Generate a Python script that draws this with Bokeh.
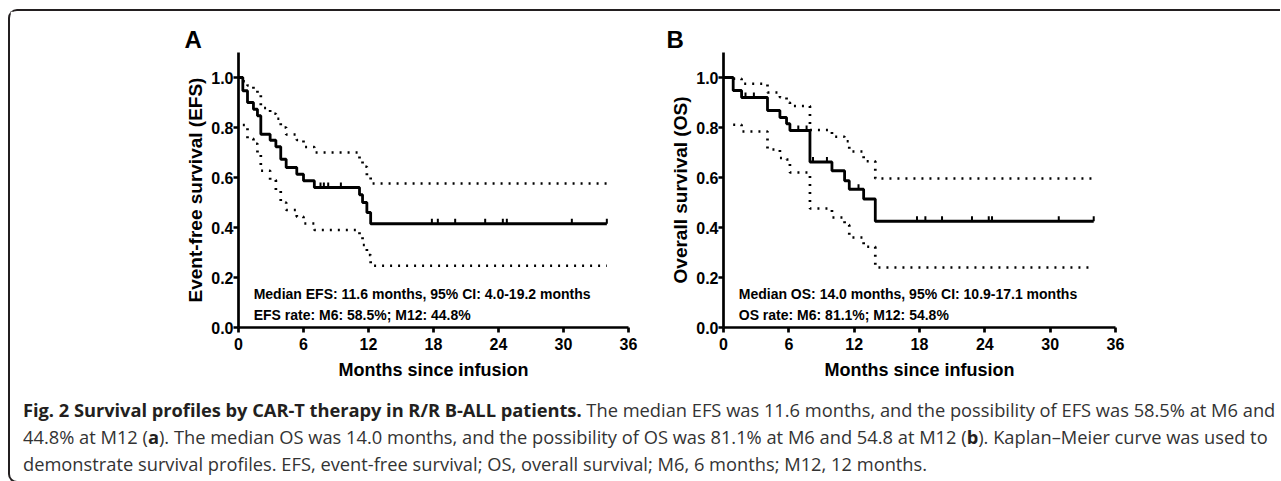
import numpy as np
from bokeh.plotting import figure
from bokeh.models import Label, Div, FixedTicker, Range1d, PrintfTickFormatter
from bokeh.layouts import row, column
from bokeh.embed import file_html
from bokeh.resources import INLINE

# ---------------- data ----------------
x_ticks = [0, 6, 12, 18, 24, 30, 36]
y_ticks = [0.0, 0.2, 0.4, 0.6, 0.8, 1.0]

# Panel A: event-free survival
efs_t = [0.0, 0.4, 0.83, 1.38, 1.75, 2.06, 2.92, 3.45, 3.9, 4.4, 5.38, 6.0, 7.0, 11.17, 11.45, 11.85, 12.2, 34.0]
efs_s = [1.0, 0.947, 0.90, 0.873, 0.847, 0.773, 0.749, 0.723, 0.673, 0.64, 0.613, 0.587, 0.56, 0.531, 0.50, 0.46, 0.415, 0.415]
efs_ci_t = [0.4, 0.83, 1.38, 1.75, 2.06, 2.92, 3.45, 3.9, 4.4, 5.38, 6.0, 7.0, 11.17, 11.45, 11.85, 12.2, 34.0]
efs_hi = [0.985, 0.968, 0.952, 0.93, 0.878, 0.855, 0.835, 0.80, 0.772, 0.75, 0.722, 0.70, 0.67, 0.643, 0.605, 0.576, 0.576]
efs_lo = [0.81, 0.755, 0.735, 0.69, 0.627, 0.59, 0.55, 0.50, 0.47, 0.443, 0.416, 0.39, 0.365, 0.33, 0.29, 0.247, 0.247]
efs_cens = [7.57, 7.88, 8.28, 9.45, 17.85, 18.4, 20.0, 22.77, 24.4, 24.77, 30.77, 34.0]

# Panel B: overall survival
os_t = [0.0, 0.89, 1.66, 4.04, 5.18, 5.79, 6.1, 7.94, 9.96, 11.12, 11.55, 12.87, 13.94, 34.0]
os_s = [1.0, 0.948, 0.92, 0.868, 0.84, 0.815, 0.788, 0.662, 0.627, 0.587, 0.553, 0.514, 0.425, 0.425]
os_ci_t = [0.89, 1.66, 4.04, 5.18, 5.79, 6.1, 7.94, 9.96, 11.12, 11.55, 12.87, 13.94, 34.0]
os_hi = [0.995, 0.975, 0.94, 0.921, 0.90, 0.886, 0.79, 0.763, 0.745, 0.704, 0.665, 0.596, 0.596]
os_lo = [0.811, 0.784, 0.712, 0.678, 0.672, 0.62, 0.476, 0.44, 0.41, 0.36, 0.323, 0.24, 0.24]
os_cens = [2.02, 2.79, 6.87, 7.63, 8.22, 9.5, 12.4, 17.77, 18.54, 20.07, 22.82, 24.36, 24.66, 30.79, 34.0]

panel_letters = ["A", "B"]
y_labels = ["Event-free survival (EFS)", "Overall survival (OS)"]
x_label = "Months since infusion"
notes_A = ["Median EFS: 11.6 months, 95% CI: 4.0-19.2 months", "EFS rate: M6: 58.5%; M12: 44.8%"]
notes_B = ["Median OS: 14.0 months, 95% CI: 10.9-17.1 months", "OS rate: M6: 81.1%; M12: 54.8%"]

caption_bold = "Fig. 2 Survival profiles by CAR-T therapy in R/R B-ALL patients."
caption_line1 = "The median EFS was 11.6 months, and the possibility of EFS was 58.5% at M6 and"
caption_line2 = ["44.8% at M12 (", "a", "). The median OS was 14.0 months, and the possibility of OS was 81.1% at M6 and 54.8 at M12 (", "b", "). Kaplan\u2013Meier curve was used to"]
caption_line3 = "demonstrate survival profiles. EFS, event-free survival; OS, overall survival; M6, 6 months; M12, 12 months."

FONT = "Liberation Sans"


def step_value(t, s, x):
    idx = np.searchsorted(np.asarray(t), np.asarray(x), side="right") - 1
    return np.asarray(s)[idx]


def make_panel(width, mb_left, mb_right, t, s, ci_t, hi, lo, cens, letter, ylabel, notes, letter_off):
    p = figure(width=width, height=378, x_range=Range1d(0, 36), y_range=Range1d(0, 1.1),
               output_backend="svg", toolbar_location=None,
               min_border_left=mb_left, min_border_right=mb_right,
               min_border_top=41, min_border_bottom=62)
    p.xgrid.visible = False
    p.ygrid.visible = False
    p.outline_line_color = None
    p.background_fill_color = "white"
    p.border_fill_color = "white"

    p.title.text = letter
    p.title.text_font = FONT
    p.title.text_font_style = "bold"
    p.title.text_font_size = "24px"
    p.title.text_color = "black"
    p.title.align = "left"
    p.title.offset = letter_off
    p.title.standoff = 0

    p.step(ci_t, hi, mode="after", line_color="black", line_width=2.7, line_dash="2 6")
    p.step(ci_t, lo, mode="after", line_color="black", line_width=2.7, line_dash="2 6")
    p.step(t, s, mode="after", line_color="black", line_width=2.8)
    cv = step_value(t, s, cens)
    p.segment(x0=cens, y0=cv, x1=cens, y1=cv + 0.02, line_color="black", line_width=2)

    p.xaxis.ticker = FixedTicker(ticks=x_ticks)
    p.yaxis.ticker = FixedTicker(ticks=y_ticks)
    p.yaxis.formatter = PrintfTickFormatter(format="%.1f")
    for ax in (p.xaxis[0], p.yaxis[0]):
        ax.axis_line_width = 2.7
        ax.axis_line_color = "black"
        ax.major_tick_line_width = 2.7
        ax.major_tick_line_color = "black"
        ax.major_tick_in = 0
        ax.major_tick_out = 5
        ax.minor_tick_line_color = None
        ax.major_label_text_font = FONT
        ax.major_label_text_font_style = "bold"
        ax.major_label_text_font_size = "16px"
        ax.major_label_text_color = "black"
        ax.axis_label_text_font = FONT
        ax.axis_label_text_font_style = "bold"
        ax.axis_label_text_color = "black"
    p.xaxis.axis_label_text_font_size = "18px"
    p.yaxis.axis_label_text_font_size = "19px"
    p.xaxis.major_label_standoff = 5
    p.yaxis.major_label_standoff = 0
    p.xaxis.axis_label = x_label
    p.yaxis.axis_label = ylabel
    p.xaxis.axis_label_standoff = 7
    p.yaxis.axis_label_standoff = 2

    for yy, note in zip([0.136, 0.05], notes):
        p.add_layout(Label(x=1.4, y=yy, text=note, text_font=FONT, text_font_style="bold",
                           text_font_size="14px", text_color="black", text_align="left",
                           text_baseline="alphabetic"))
    return p


pA = make_panel(640, 228, 22, efs_t, efs_s, efs_ci_t, efs_hi, efs_lo, efs_cens,
                panel_letters[0], y_labels[0], notes_A, -54)
pB = make_panel(620, 73, 155, os_t, os_s, os_ci_t, os_hi, os_lo, os_cens,
                panel_letters[1], y_labels[1], notes_B, -57)

B = "color:#231f20;font-weight:700;letter-spacing:-0.03px;"
LINE = "position:absolute;left:8px;line-height:18px;white-space:nowrap;"
html = (
    "<div style=\"position:relative;font-family:'Open Sans',sans-serif;font-size:18.3px;color:#333;"
    "width:1260px;height:82px;\">"
    f"<div style='{LINE}top:7px;'><span style='{B}'>{caption_bold}</span> {caption_line1}</div>"
    f"<div style='{LINE}top:34px;'>{caption_line2[0]}<span style='{B}'>{caption_line2[1]}</span>{caption_line2[2]}"
    f"<span style='{B}'>{caption_line2[3]}</span>{caption_line2[4]}</div>"
    f"<div style='{LINE}top:61px;'>{caption_line3}</div>"
    "</div>"
)
cap = Div(text=html, width=1260, height=82)

layout = column(row(pA, pB), cap,
                styles={"margin-left": "8px", "margin-top": "9px",
                        "border-left": "2px solid #231f20", "border-top": "2px solid #231f20",
                        "border-bottom": "2px solid #231f20",
                        "border-top-left-radius": "9px", "border-bottom-left-radius": "9px"})

open("out.html", "w").write(file_html(layout, INLINE))
